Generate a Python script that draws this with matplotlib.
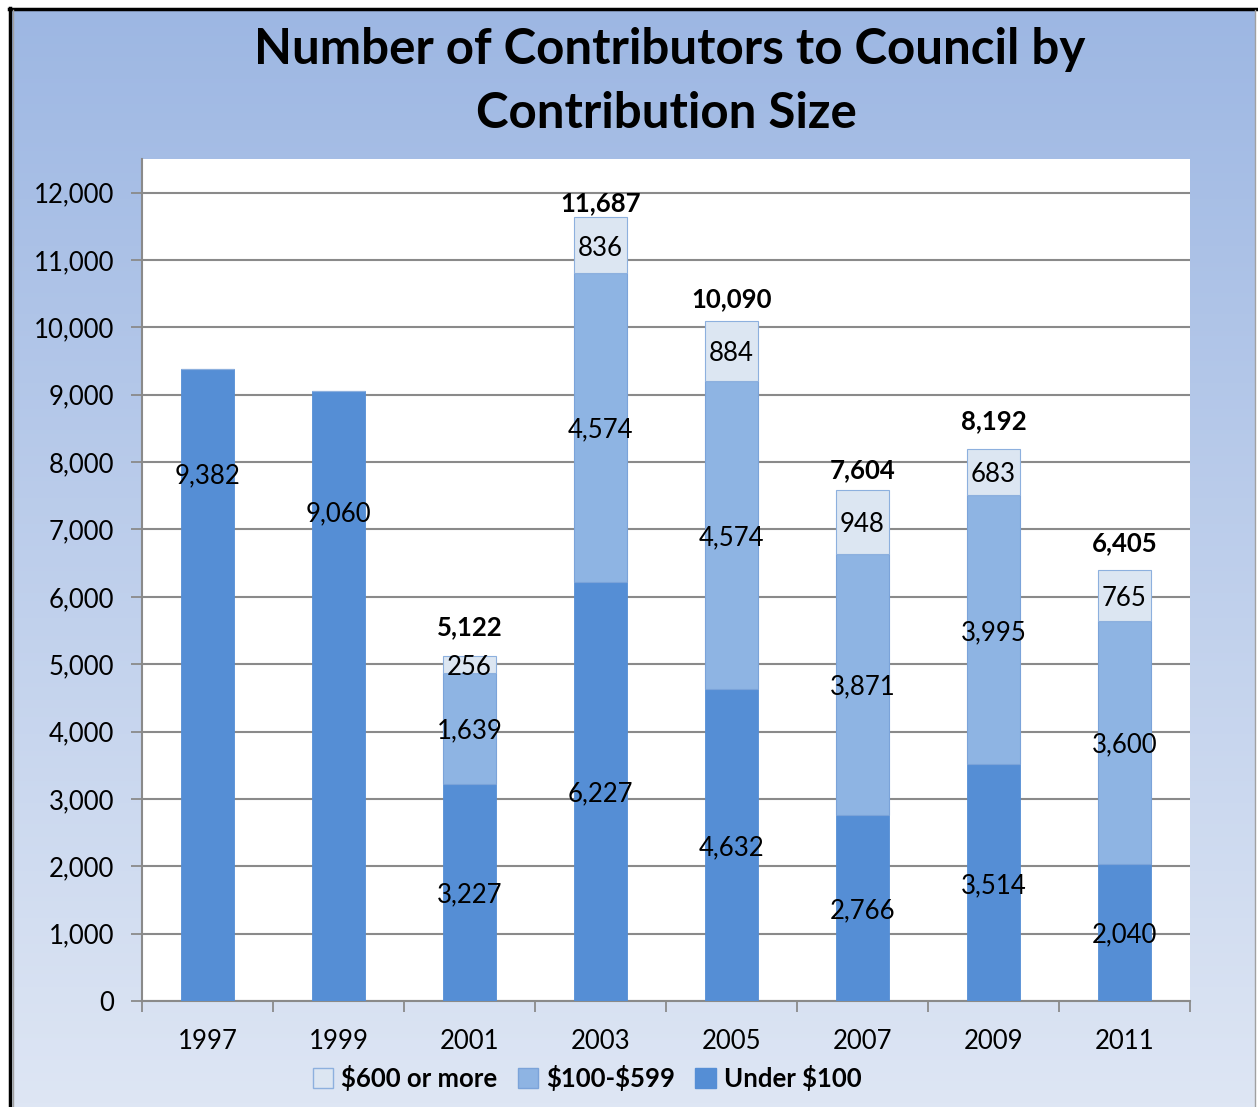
import numpy as np
import matplotlib
matplotlib.use("Agg")
import matplotlib.pyplot as plt
from matplotlib.patches import Patch

plt.rcParams['font.family'] = ['Lato', 'DejaVu Sans']

years = ['1997', '1999', '2001', '2003', '2005', '2007', '2009', '2011']
under_100 = [9382, 9060, 3227, 6227, 4632, 2766, 3514, 2040]
mid_100_599 = [0, 0, 1639, 4574, 4574, 3871, 3995, 3600]
over_600 = [0, 0, 256, 836, 884, 948, 683, 765]
# totals as printed on the chart (2003 and 2007 do not add up exactly)
total_labels = ['', '', '5,122', '11,687', '10,090', '7,604', '8,192', '6,405']
series_names = ['\\$600 or more', '\\$100-\\$599', 'Under \\$100']

c_under = '#558ED5'
c_mid = '#8EB4E3'
c_top = '#DCE6F2'

W, H = 1258, 1107
fig = plt.figure(figsize=(W / 100, H / 100), dpi=100)
fig.patch.set_facecolor('white')

# gradient background of the chart area
bg = fig.add_axes([12 / W, 0, (1255 - 12) / W, 1 - 10 / H])
top_rgb = np.array([157, 183, 227]) / 255
bot_rgb = np.array([222, 230, 244]) / 255
t = np.linspace(0, 1, 256)[:, None]
grad = top_rgb * (1 - t) + bot_rgb * t
bg.imshow(grad[:, None, :], aspect='auto', extent=[0, 1, 0, 1])
bg.set_xlim(0, 1)
bg.set_ylim(0, 1)
bg.axis('off')
# borders
fig.add_artist(plt.Line2D([10 / W, 10 / W], [0, 1 - 8 / H], color='black', lw=2.5))
fig.add_artist(plt.Line2D([9 / W, 1258 / W], [1 - 9 / H, 1 - 9 / H], color='black', lw=2.5))
fig.add_artist(plt.Line2D([12.5 / W, 12.5 / W], [0, 1 - 10 / H], color='#A0A0A0', lw=1))
fig.add_artist(plt.Line2D([1255 / W, 1255 / W], [0, 1 - 10 / H], color='#A0A0A0', lw=1))

ax = fig.add_axes([142 / W, 1 - 1001 / H, (1190 - 142) / W, (1001 - 159) / H])
ax.set_facecolor('white')

x = np.arange(len(years))
bw = 0.4
under = np.array(under_100)
mid = np.array(mid_100_599)
top = np.array(over_600)

ax.bar(x, under, bw, color=c_under, edgecolor=c_under, lw=0.6, zorder=3)
ax.bar(x, mid, bw, bottom=under, color=c_mid, edgecolor='#7BA3D9', lw=0.8, zorder=3)
ax.bar(x, top, bw, bottom=under + mid, color=c_top, edgecolor='#8DB0DE', lw=0.8, zorder=3)

ax.set_xlim(-0.5, len(years) - 0.5)
ax.set_ylim(0, 12500)
ax.set_yticks(range(0, 12001, 1000))
ax.set_yticklabels([f'{v:,}' for v in range(0, 12001, 1000)])
ax.yaxis.grid(True, color='#8A8A8A', lw=1.5, zorder=0)
ax.set_axisbelow(True)

ax.set_xticks(x)
ax.set_xticklabels(years)
ax.set_xticks(np.arange(-0.5, len(years), 1), minor=True)
ax.tick_params(axis='x', which='major', length=0, pad=20, labelsize=18.5)
ax.tick_params(axis='x', which='minor', length=8, width=1.3, color='#8A8A8A', direction='out')
ax.tick_params(axis='y', length=8, width=1.3, color='#8A8A8A', pad=12, labelsize=18.5)

for s in ['top', 'right']:
    ax.spines[s].set_visible(False)
for s in ['left', 'bottom']:
    ax.spines[s].set_color('#8A8A8A')
    ax.spines[s].set_linewidth(1.5)

# label placement tweaks (as laid out in the original)
solo_frac = [0.836, 0.803]
total_offset = [0, 0, 21, 10, 16, 14, 20, 19]
fs = 18.5


def seg_label(xi, yv, txt):
    ax.annotate(txt, (xi, yv), xytext=(0, -2), textcoords='offset points', ha='center',
                va='center', fontsize=fs, zorder=5)


for i in range(len(years)):
    if mid[i] == 0 and top[i] == 0:
        seg_label(x[i], under[i] * solo_frac[i], f'{under[i]:,}')
        continue
    seg_label(x[i], under[i] / 2, f'{under[i]:,}')
    seg_label(x[i], under[i] + mid[i] / 2, f'{mid[i]:,}')
    seg_label(x[i], under[i] + mid[i] + top[i] / 2, f'{top[i]:,}')
    ax.annotate(total_labels[i], (x[i], under[i] + mid[i] + top[i]),
                xytext=(0, total_offset[i]), textcoords='offset points', ha='center',
                va='center', fontsize=fs, fontweight='bold', zorder=5)

fig.text(0.532, 1 - 50 / H, 'Number of Contributors to Council by', ha='center', va='center',
         fontsize=35.5, fontweight='bold')
fig.text(0.53, 1 - 113 / H, 'Contribution Size', ha='center', va='center',
         fontsize=35.5, fontweight='bold')

handles = [Patch(facecolor=c_top, edgecolor='#8DB0DE', label=series_names[0]),
           Patch(facecolor=c_mid, edgecolor='#7BA3D9', label=series_names[1]),
           Patch(facecolor=c_under, edgecolor=c_under, label=series_names[2])]
fig.legend(handles=handles, loc='center', bbox_to_anchor=(587 / W, 1 - 1078 / H), ncol=3,
           frameon=False, handlelength=0.8, handleheight=0.8, handletextpad=0.3,
           columnspacing=0.8, prop={'size': 18.5, 'weight': 'bold'})

fig.savefig('out.png', dpi=100)
